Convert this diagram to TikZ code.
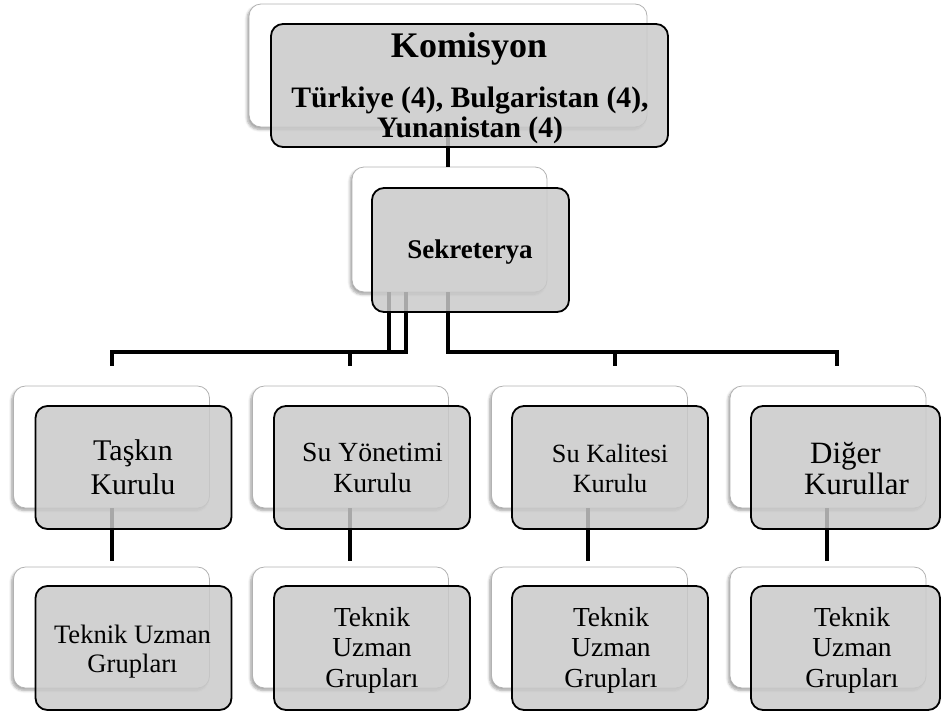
\documentclass[tikz,border=0pt]{standalone}
\usepackage{fontspec}
\setmainfont{Liberation Serif}
\usetikzlibrary{shadows.blur}
% centred lines, the box baseline is the first line's baseline
\newcommand{\stack}[1]{\begin{tabular}[t]{@{}c@{}}#1\end{tabular}}

\begin{document}
\begin{tikzpicture}[x=1pt, y=-1pt,
  backbox/.style={draw=black!30, line width=0.8pt, fill=white, rounded corners=12pt,
    inner sep=0pt,
    blur shadow={shadow xshift=-2pt, shadow yshift=-2.5pt, shadow blur steps=6,
      shadow blur radius=2.5pt, shadow opacity=35}},
  frontbox/.style={draw=black, line width=1.8pt, fill=black!21, fill opacity=0.84,
    rounded corners=12pt, inner sep=0pt},
  lbl/.style={anchor=base, inner sep=0pt},
  conn/.style={line width=4pt, black},
  fronttwo/.style={frontbox, minimum width=196, minimum height=123},
  frontthree/.style={frontbox, minimum width=196, minimum height=124},
  backtwo/.style={backbox, minimum width=196, minimum height=122},
  backthree/.style={backbox, minimum width=196, minimum height=121}
]
\useasboundingbox (0,0) rectangle (941,715);

% back (white) cards
\node[backbox, minimum width=398, minimum height=123] (kB) at (448,65.5) {};
\node[backbox, minimum width=195, minimum height=125] (sB) at (449.5,229.5) {};
\node[backtwo] (b1) at (111.5,447) {};
\node[backtwo] (b2) at (350.5,447) {};
\node[backtwo] (b3) at (589.5,447) {};
\node[backtwo] (b4) at (828,447) {};
\node[backthree] (c1) at (111.5,627.5) {};
\node[backthree] (c2) at (350.5,627.5) {};
\node[backthree] (c3) at (589.5,627.5) {};
\node[backthree] (c4) at (828,627.5) {};

% free ends of the connectors
\coordinate (d1) at (112,366);
\coordinate (d2) at (350,366);
\coordinate (d3) at (615,366);
\coordinate (d4) at (837,366);
\coordinate (g1) at (112,561);
\coordinate (g2) at (350,561);
\coordinate (g3) at (588,561);
\coordinate (g4) at (827,561);

% connectors
\draw[conn] (kB.south) -- (kB.south |- sB.north);
\draw[conn] ([xshift=-60.5pt]sB.south) |- ([yshift=14pt]d1) -- (d1);
\draw[conn] ([xshift=-43.5pt]sB.south) |- ([yshift=14pt]d2) -- (d2);
\draw[conn] ([xshift=-1.5pt]sB.south) |- ([yshift=14pt]d3) -- (d3);
\draw[conn] ([xshift=-1.5pt]sB.south) |- ([yshift=14pt]d4) -- (d4);
\draw[conn] (b1.south -| g1) -- (g1);
\draw[conn] (b2.south -| g2) -- (g2);
\draw[conn] (b3.south -| g3) -- (g3);
\draw[conn] (b4.south -| g4) -- (g4);

% front (grey) cards
\node[frontbox, minimum width=397, minimum height=123] (kF) at (469.5,85.5) {};
\node[frontbox, minimum width=197, minimum height=124] (sF) at (470.5,250) {};
\node[fronttwo] (f1) at (133.5,467.5) {};
\node[fronttwo] (f2) at (372,467.5) {};
\node[fronttwo] (f3) at (610,467.5) {};
\node[fronttwo, minimum width=189] (f4) at (845.5,467.5) {};
\node[frontthree] (h1) at (133.5,648) {};
\node[frontthree] (h2) at (372,648) {};
\node[frontthree] (h3) at (610,648) {};
\node[frontthree, minimum width=189] (h4) at (845.5,648) {};

% card texts
\node[lbl, font=\fontsize{36}{36}\selectfont\bfseries] (kT) at (469,57) {Komisyon};
\node[lbl, font=\fontsize{29.7}{30}\selectfont\bfseries] (kU) at (470,107)
  {\stack{Türkiye (4), Bulgaristan (4),\\Yunanistan (4)}};
\node[lbl, font=\fontsize{27}{30}\selectfont\bfseries] (sT) at (470,258) {Sekreterya};

\node[lbl, font=\fontsize{30}{34}\selectfont] (f1T) at (133,460) {\stack{Taşkın\\Kurulu}};
\node[lbl, font=\fontsize{27.7}{31}\selectfont] (f2T) at (372.5,461) {\stack{Su Yönetimi\\Kurulu}};
\node[lbl, font=\fontsize{26.3}{30}\selectfont] (f3T) at (610,462) {\stack{Su Kalitesi\\Kurulu}};
\node[lbl, font=\fontsize{31}{31}\selectfont] (f4T) at (845.5,463)
  {\stack{Diğer\\\hspace*{22pt}Kurullar}};

\node[lbl, font=\fontsize{26.6}{29}\selectfont] (h1T) at (132.5,643)
  {\stack{Teknik Uzman\\Grupları}};
\node[lbl, font=\fontsize{27.5}{30.5}\selectfont] (h2T) at (372,626)
  {\stack{Teknik\\Uzman\\Grupları}};
\node[lbl, font=\fontsize{27.5}{30.5}\selectfont] (h3T) at (611,626)
  {\stack{Teknik\\Uzman\\Grupları}};
\node[lbl, font=\fontsize{27.5}{30.5}\selectfont] (h4T) at (852,626)
  {\stack{Teknik\\Uzman\\Grupları}};
\end{tikzpicture}
\end{document}
